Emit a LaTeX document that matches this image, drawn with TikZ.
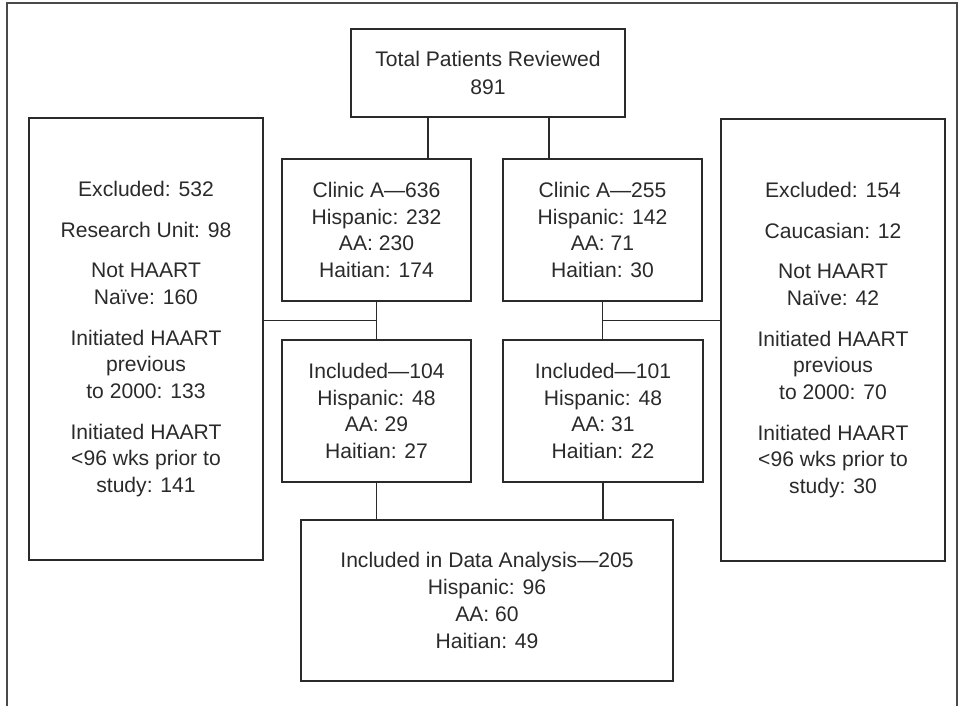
\documentclass[tikz,border=0pt]{standalone}
\usepackage{fontspec}
\setmainfont{Liberation Sans}
\usetikzlibrary{calc}
\definecolor{ink}{HTML}{2A2A2A}
\begin{document}
\begin{tikzpicture}[x=1pt,y=-1pt,
  fbox/.style={draw=ink, line width=1.3pt, text=ink, align=center, inner sep=0pt,
    font=\fontsize{21.1}{26.7}\selectfont},
  conn/.style={draw=ink, line width=1.2pt},
  frame/.style={draw=ink!85, line width=1.3pt}]
\useasboundingbox (0,0) rectangle (966,706);
\draw[frame] (7,706) -- (7,3) -- (957,3) -- (957,706);

\node[fbox, minimum width=274pt, minimum height=88pt, font=\fontsize{21.1}{28}\selectfont]
  (top) at (488,73) {Total Patients Reviewed\\891};
\node[fbox, minimum width=189pt, minimum height=142pt] (c1) at (376.5,230)
  {Clinic A—636\\Hispanic: 232\\AA: 230\\Haitian: 174};
\node[fbox, minimum width=199pt, minimum height=142pt] (c2) at (602.5,230)
  {Clinic A—255\\Hispanic: 142\\AA: 71\\Haitian: 30};
\node[fbox, minimum width=189pt, minimum height=142pt] (i1) at (376.5,411)
  {Included—104\\Hispanic: 48\\AA: 29\\Haitian: 27};
\node[fbox, minimum width=200pt, minimum height=142pt] (i2) at (603,411)
  {Included—101\\Hispanic: 48\\AA: 31\\Haitian: 22};
\node[fbox, minimum width=372pt, minimum height=161pt] (bot) at (487,600.5)
  {Included in Data Analysis—205\\Hispanic: 96\\AA: 60\\Haitian: 49};
\node[fbox, minimum width=234pt, minimum height=442pt] (exL) at (146,339)
  {Excluded: 532\\[14pt]Research Unit: 98\\[14pt]Not HAART\\Naïve: 160\\[14pt]Initiated HAART\\previous\\to 2000: 133\\[14pt]Initiated HAART\\<96 wks prior to\\study: 141};
\node[fbox, minimum width=224pt, minimum height=442pt] (exR) at (833,340)
  {Excluded: 154\\[14pt]Caucasian: 12\\[14pt]Not HAART\\Naïve: 42\\[14pt]Initiated HAART\\previous\\to 2000: 70\\[14pt]Initiated HAART\\<96 wks prior to\\study: 30};

\draw[conn] ([xshift=-60pt]top.south) -- ([xshift=-60pt]top.south |- c1.north);
\draw[conn] ([xshift=61pt]top.south) -- ([xshift=61pt]top.south |- c2.north);
\draw[conn] (c1.south) -- (i1.north);
\draw[conn] (c2.south) -- (c2.south |- i2.north);
\coordinate (jl) at ($(c1.south)!0.5!(i1.north)$);
\coordinate (jr) at ($(c2.south)!0.5!(c2.south |- i2.north)$);
\draw[conn] (jl -| exL.east) -- (jl);
\draw[conn] (jr) -- (jr -| exR.west);
\draw[conn] (i1.south) -- (i1.south |- bot.north);
\draw[conn] (i2.south) -- (i2.south |- bot.north);
\end{tikzpicture}
\end{document}
